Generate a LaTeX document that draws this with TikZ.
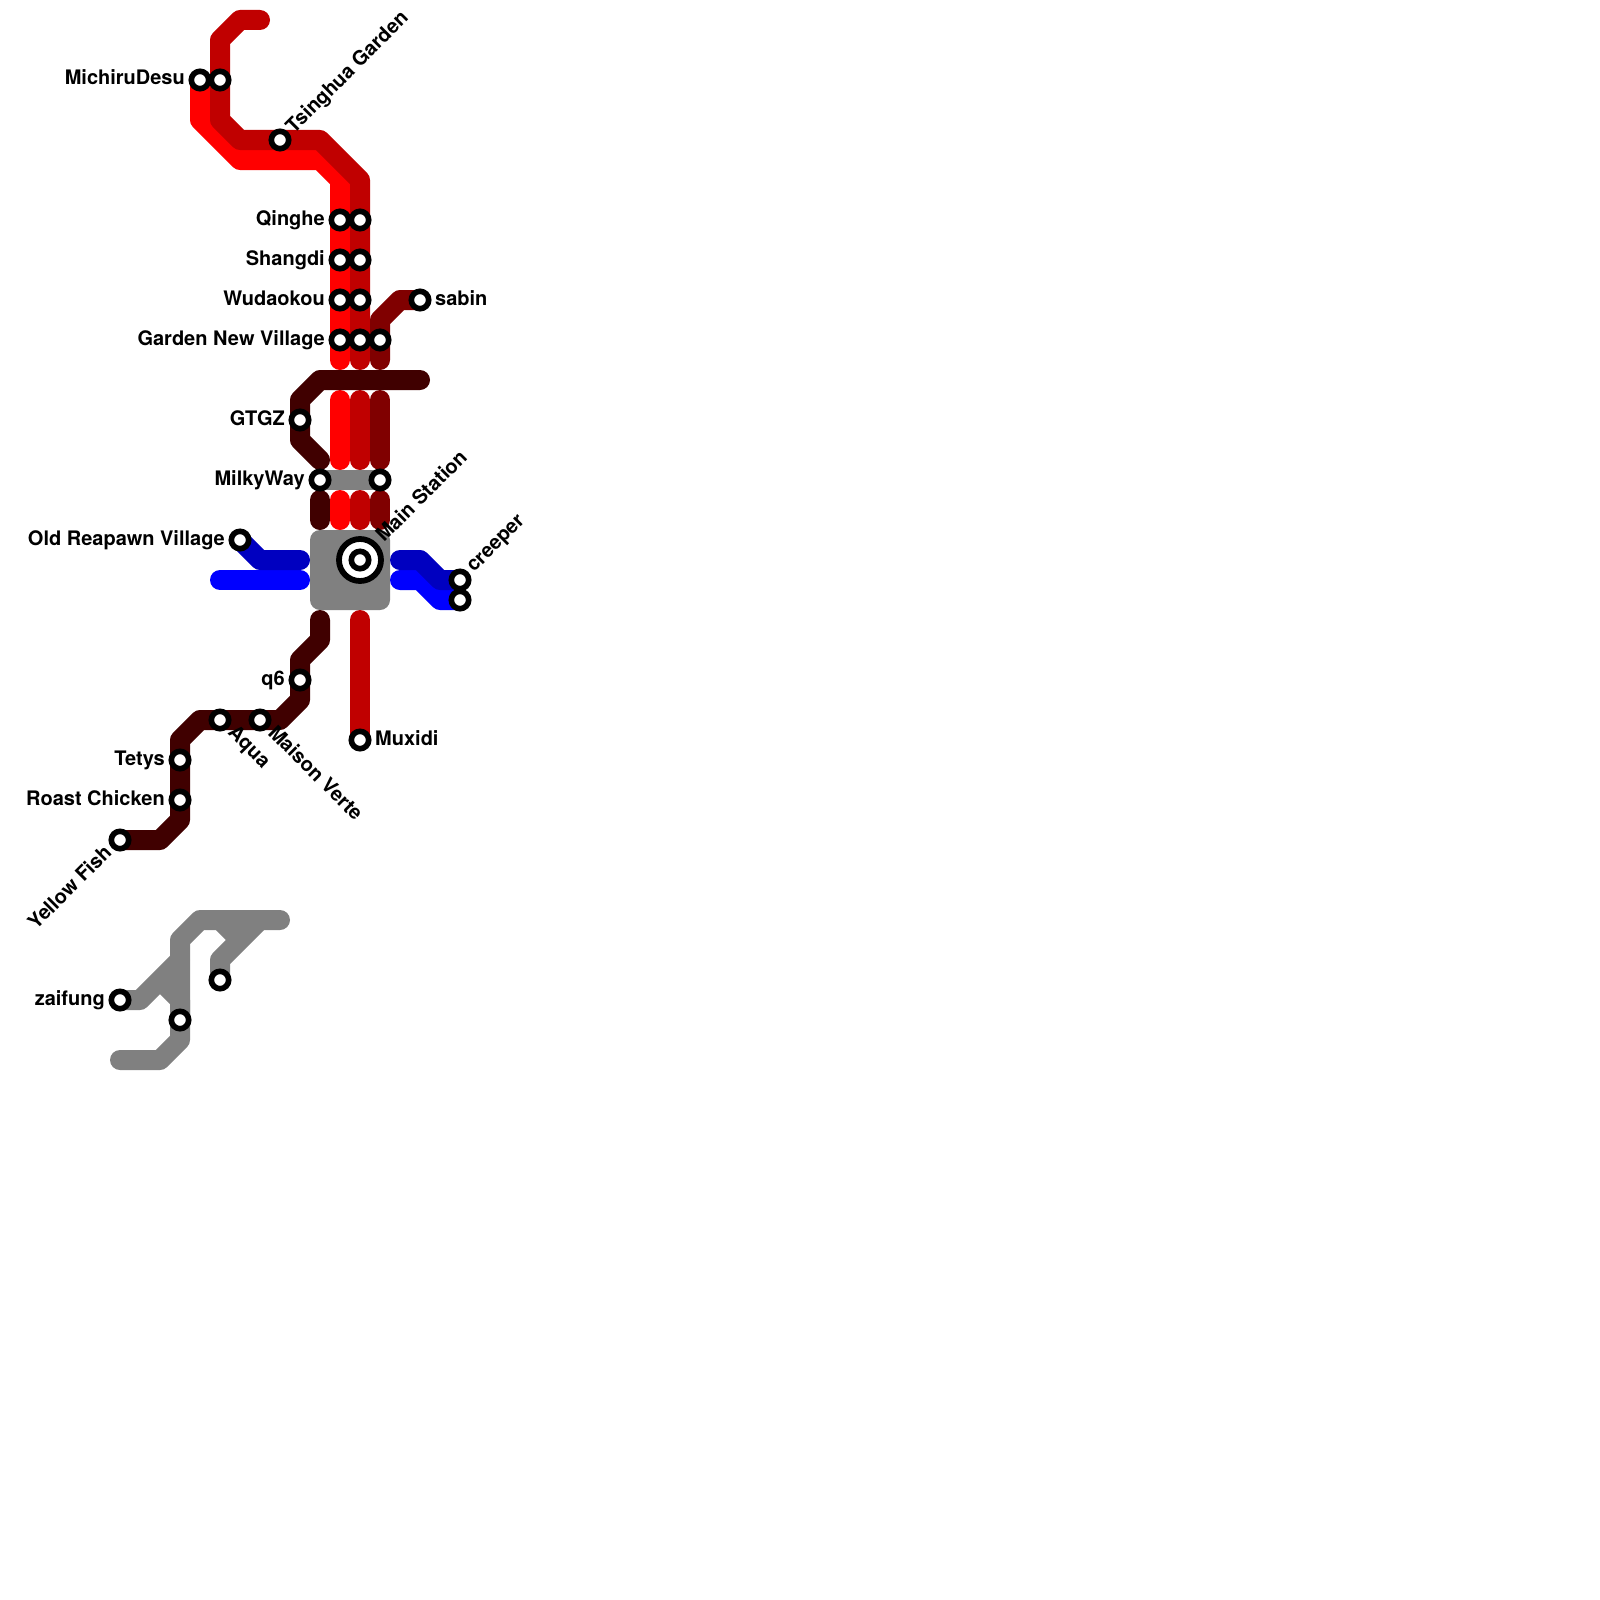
\documentclass[tikz,border=0pt]{standalone}
\usepackage{fontspec}
\setmainfont{TeX Gyre Heros}
\definecolor{rA}{HTML}{FF0000}
\definecolor{rB}{HTML}{C00000}
\definecolor{rC}{HTML}{800000}
\definecolor{rD}{HTML}{400000}
\definecolor{bA}{HTML}{0000FF}
\definecolor{bB}{HTML}{0000C0}
\definecolor{gA}{HTML}{808080}
\tikzset{
  route/.style={line width=20pt,line join=round,line cap=round},
  routeflat/.style={line width=20pt,line join=round,line cap=butt},
  stn/.style={circle,draw=black,fill=white,line width=5.6pt,minimum size=17.4pt,inner sep=0pt},
  ringstn/.style={circle,draw=black,fill=white,line width=5.8pt,minimum size=42pt,inner sep=0pt},
  lab/.style={inner sep=0pt,font=\fontsize{20}{24}\selectfont\bfseries},
  hub/.style={fill=gA,rounded corners=10pt,draw=none},
}
\begin{document}
\begin{tikzpicture}[x=1pt,y=-1pt]
\useasboundingbox (0,0) rectangle (1600,1600);
% station positions
\coordinate (cMichA) at (200,80);
\coordinate (cMichB) at (220,80);
\coordinate (cTsing) at (280,140);
\coordinate (cQinA) at (340,220);
\coordinate (cQinB) at (360,220);
\coordinate (cShaA) at (340,260);
\coordinate (cShaB) at (360,260);
\coordinate (cWudA) at (340,300);
\coordinate (cWudB) at (360,300);
\coordinate (cGarA) at (340,340);
\coordinate (cGarB) at (360,340);
\coordinate (cGarC) at (380,340);
\coordinate (cSabin) at (420,300);
\coordinate (cGtgz) at (300,420);
\coordinate (cMilkA) at (320,480);
\coordinate (cMilkB) at (380,480);
\coordinate (cOld) at (240,540);
\coordinate (cMain) at (360,560);
\coordinate (cCreA) at (460,580);
\coordinate (cCreB) at (460,600);
\coordinate (cQsix) at (300,680);
\coordinate (cMux) at (360,740);
\coordinate (cAqua) at (220,720);
\coordinate (cMais) at (260,720);
\coordinate (cTety) at (180,760);
\coordinate (cRoast) at (180,800);
\coordinate (cYell) at (120,840);
\coordinate (cZai) at (120,1000);
\coordinate (cGrA) at (180,1020);
\coordinate (cGrB) at (220,980);
% hub and transfer
\fill[hub] (310,530) rectangle (390,610);
\draw[routeflat,gA] (cMilkA) -- (cMilkB);
% red lines
\draw[routeflat,rA] (cMichA) -- (200,120) -- (240,160) -- (320,160) -- (340,180) -- (cGarA);
\draw[route,rA] (cGarA) -- (340,360);
\draw[route,rA] (340,400) -- (340,460);
\draw[route,rA] (340,500) -- (340,520);
\draw[route,rB] (260,20) -- (240,20) -- (220,40) -- (cMichB) -- (220,120) -- (240,140) -- (320,140) -- (360,180) -- (cGarB) -- (360,360);
\draw[route,rB] (360,400) -- (360,460);
\draw[route,rB] (360,500) -- (360,520);
\draw[route,rB] (360,620) -- (cMux);
\draw[route,rC] (cSabin) -- (400,300) -- (380,320) -- (cGarC) -- (380,360);
\draw[route,rC] (380,400) -- (380,460);
\draw[route,rC] (380,500) -- (380,520);
\draw[route,rD] (420,380) -- (320,380) -- (300,400) -- (cGtgz) -- (300,440) -- (320,460);
\draw[route,rD] (320,500) -- (320,520);
\draw[route,rD] (320,620) -- (320,640) -- (300,660) -- (cQsix) -- (300,700) -- (280,720) -- (cMais) -- (cAqua) -- (200,720) -- (180,740) -- (cTety) -- (cRoast) -- (180,820) -- (160,840) -- (cYell);
% blue lines
\draw[route,bA] (220,580) -- (300,580);
\draw[route,bB] (cOld) -- (260,560) -- (300,560);
\draw[route,bA] (400,580) -- (420,580) -- (440,600) -- (cCreB);
\draw[route,bB] (400,560) -- (420,560) -- (440,580) -- (cCreA);
% grey lines
\draw[route,gA] (120,1060) -- (160,1060) -- (180,1040) -- (cGrA) -- (180,940) -- (200,920) -- (280,920);
\draw[route,gA] (cZai) -- (140,1000) -- (180,960);
\draw[routeflat,gA] (cGrA) -- (180,1000) -- (160,980);
\draw[routeflat,gA] (220,920) -- (240,940);
\draw[route,gA] (cGrB) -- (220,960) -- (260,920);
% stations
\node[ringstn] (ringMain) at (cMain) {};
\foreach \n in {MichA,MichB,Tsing,QinA,QinB,ShaA,ShaB,WudA,WudB,GarA,GarB,GarC,Sabin,Gtgz,MilkA,MilkB,Old,Main,CreA,CreB,Qsix,Mux,Aqua,Mais,Tety,Roast,Yell,Zai,GrA,GrB}
  \node[stn] (s\n) at (c\n) {};
% labels
\node[lab,anchor=base east] (lMich) at (185,85) {MichiruDesu};
\node[lab,anchor=base east] (lQin) at (325,225) {Qinghe};
\node[lab,anchor=base east] (lSha) at (325,265) {Shangdi};
\node[lab,anchor=base east] (lWud) at (325,305) {Wudaokou};
\node[lab,anchor=base east] (lGar) at (325,345) {Garden New Village};
\node[lab,anchor=base west] (lSab) at (435,305) {sabin};
\node[lab,anchor=base east] (lGtgz) at (285,425) {GTGZ};
\node[lab,anchor=base east] (lMilk) at (305,485) {MilkyWay};
\node[lab,anchor=base east] (lOld) at (225,545) {Old Reapawn Village};
\node[lab,anchor=base east] (lQsix) at (285,685) {q6};
\node[lab,anchor=base west] (lMux) at (375,745) {Muxidi};
\node[lab,anchor=base east] (lTety) at (165,765) {Tetys};
\node[lab,anchor=base east] (lRoast) at (165,805) {Roast Chicken};
\node[lab,anchor=base east] (lZai) at (105,1005) {zaifung};
\node[lab,anchor=base west,rotate=45] (lTsing) at (294,134.5) {Tsinghua Garden};
\node[lab,anchor=base west,rotate=45] (lMain) at (384,543) {Main Station};
\node[lab,anchor=base west,rotate=45] (lCre) at (474,573) {creeper};
\node[lab,anchor=base west,rotate=-45] (lAqua) at (227,733.5) {Aqua};
\node[lab,anchor=base west,rotate=-45] (lMais) at (267,734) {Maison Verte};
\node[lab,anchor=base east,rotate=45] (lYell) at (113,853.5) {Yellow Fish};
\end{tikzpicture}
\end{document}
